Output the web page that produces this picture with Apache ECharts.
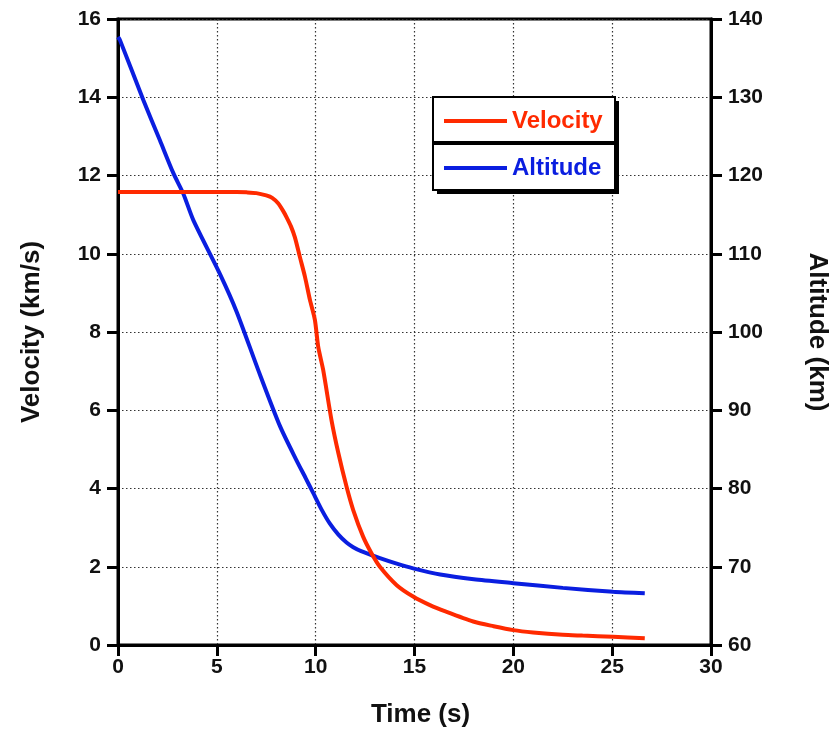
<!DOCTYPE html>
<html>
<head>
<meta charset="utf-8">
<script src="https://cdn.jsdelivr.net/npm/echarts@6/dist/echarts.min.js"></script>
<style>html,body{margin:0;padding:0;background:#fff;overflow:hidden;}#chart{width:833px;height:731px;}</style>
</head>
<body>
<div id="chart"></div>
<script>
// Velocity (km/s) vs time (s)
var velTime = [0, 1, 2, 3, 4, 5, 6, 6.5, 7, 7.5, 7.8, 8.1, 8.36, 8.53, 8.75, 8.95, 9.2, 9.46, 9.71, 9.96, 10.13, 10.38, 10.8, 11.15, 11.56, 11.9, 12.4, 12.83, 13.25, 14.1, 14.93, 15.78, 16.6, 17.97, 19, 20, 21, 22.5, 23.5, 25.05, 26.65];
var velocity = [11.58, 11.58, 11.58, 11.58, 11.58, 11.58, 11.58, 11.57, 11.55, 11.49, 11.43, 11.29, 11.09, 10.93, 10.7, 10.42, 9.92, 9.41, 8.82, 8.31, 7.62, 7.03, 5.75, 4.9, 4.05, 3.45, 2.77, 2.34, 2.0, 1.53, 1.24, 1.02, 0.85, 0.6, 0.48, 0.38, 0.32, 0.26, 0.24, 0.21, 0.17];
// Altitude (km) vs time (s)
var altTime = [0, 0.1, 1.28, 2.12, 2.8, 3.3, 3.81, 5.16, 6.0, 7.1, 8.19, 9.03, 9.5, 9.88, 10.3, 10.72, 11.15, 11.56, 11.9, 12.3, 13.25, 14.1, 14.93, 16.3, 18, 20, 22.5, 25.05, 26.65];
var altitude = [137.7, 137.3, 129.65, 124.5, 120.3, 117.7, 114.3, 107.4, 102.6, 95.1, 88.0, 83.6, 81.3, 79.4, 77.3, 75.5, 74.1, 73.1, 72.5, 72.0, 71.1, 70.4, 69.8, 69.0, 68.4, 67.9, 67.3, 66.8, 66.6];
var xTicks = {min: 0, max: 30, interval: 5};
var velTicks = {min: 0, max: 16, interval: 2};
var altTicks = {min: 60, max: 140, interval: 10};
var seriesNames = ['Velocity', 'Altitude'];
var xName = 'Time (s)', velName = 'Velocity (km/s)', altName = 'Altitude (km)';

var RED = '#ff2a00', BLUE = '#0a1ee0';
var FONT = '"Liberation Sans", Arial, Helvetica, sans-serif';

function zip(a, b) { return a.map(function (v, i) { return [v, b[i]]; }); }

var el = document.getElementById('chart');
var chart = echarts.init(el, null, {renderer: 'canvas', width: 833, height: 731});
var axisLine = {show: true, lineStyle: {color: '#000', width: 3}};
var axisTick = {show: true, inside: false, length: 11, lineStyle: {color: '#000', width: 3}};
var tickLabel = {color: '#111', fontFamily: FONT, fontWeight: 'bold', fontSize: 21};
var split = {show: true, lineStyle: {color: '#333', width: 1.2, type: [1.5, 2.5]}};
var titleStyle = {color: '#111', fontFamily: FONT, fontWeight: 'bold', fontSize: 26};

chart.setOption({
  animation: false,
  backgroundColor: '#fff',
  grid: {left: 118, right: 122, top: 19, bottom: 86, outerBoundsMode: 'none', containLabel: false,
    show: true, borderColor: '#000', borderWidth: 3, backgroundColor: 'transparent'},
  xAxis: {
    type: 'value', min: xTicks.min, max: xTicks.max, interval: xTicks.interval,
    name: xName, nameLocation: 'middle', nameGap: 57,
    nameTextStyle: Object.assign({padding: [0, 0, 0, 12]}, titleStyle),
    axisLine: axisLine, axisTick: axisTick,
    axisLabel: Object.assign({margin: 12}, tickLabel),
    splitLine: split
  },
  yAxis: [{
    type: 'value', min: velTicks.min, max: velTicks.max, interval: velTicks.interval, position: 'left',
    name: velName, nameLocation: 'middle', nameGap: 73, nameRotate: 90, nameTextStyle: titleStyle,
    axisLine: axisLine, axisTick: axisTick,
    axisLabel: Object.assign({margin: 17}, tickLabel),
    splitLine: split
  }, {
    type: 'value', min: altTicks.min, max: altTicks.max, interval: altTicks.interval, position: 'right',
    name: altName, nameLocation: 'middle', nameGap: 93, nameRotate: -90, nameTextStyle: titleStyle,
    axisLine: axisLine, axisTick: axisTick,
    axisLabel: Object.assign({margin: 17}, tickLabel),
    splitLine: {show: false}
  }],
  legend: [{
    data: [{name: seriesNames[0], textStyle: {color: RED}}],
    left: 444, top: 109, icon: 'rect', itemWidth: 63, itemHeight: 4, itemGap: 5, padding: 0, z: 60,
    textStyle: {fontFamily: FONT, fontWeight: 'bold', fontSize: 24}
  }, {
    data: [{name: seriesNames[1], textStyle: {color: BLUE}}],
    left: 444, top: 156, icon: 'rect', itemWidth: 63, itemHeight: 4, itemGap: 5, padding: 0, z: 60,
    textStyle: {fontFamily: FONT, fontWeight: 'bold', fontSize: 24}
  }],
  graphic: [
    {type: 'rect', z: 50, shape: {x: 437, y: 101, width: 182, height: 93}, style: {fill: '#000'}},
    {type: 'rect', z: 51, shape: {x: 433, y: 97, width: 182, height: 45}, style: {fill: '#fff', stroke: '#000', lineWidth: 2}},
    {type: 'rect', z: 51, shape: {x: 433, y: 144, width: 182, height: 46}, style: {fill: '#fff', stroke: '#000', lineWidth: 2}}
  ],
  series: [{
    name: seriesNames[0], type: 'line', yAxisIndex: 0, data: zip(velTime, velocity),
    smooth: 0.25,
    showSymbol: false, symbol: 'none', lineStyle: {color: RED, width: 4}, itemStyle: {color: RED}, z: 3
  }, {
    name: seriesNames[1], type: 'line', yAxisIndex: 1, data: zip(altTime, altitude),
    smooth: 0.25,
    showSymbol: false, symbol: 'none', lineStyle: {color: BLUE, width: 4}, itemStyle: {color: BLUE}, z: 2
  }]
});
</script>
</body>
</html>
